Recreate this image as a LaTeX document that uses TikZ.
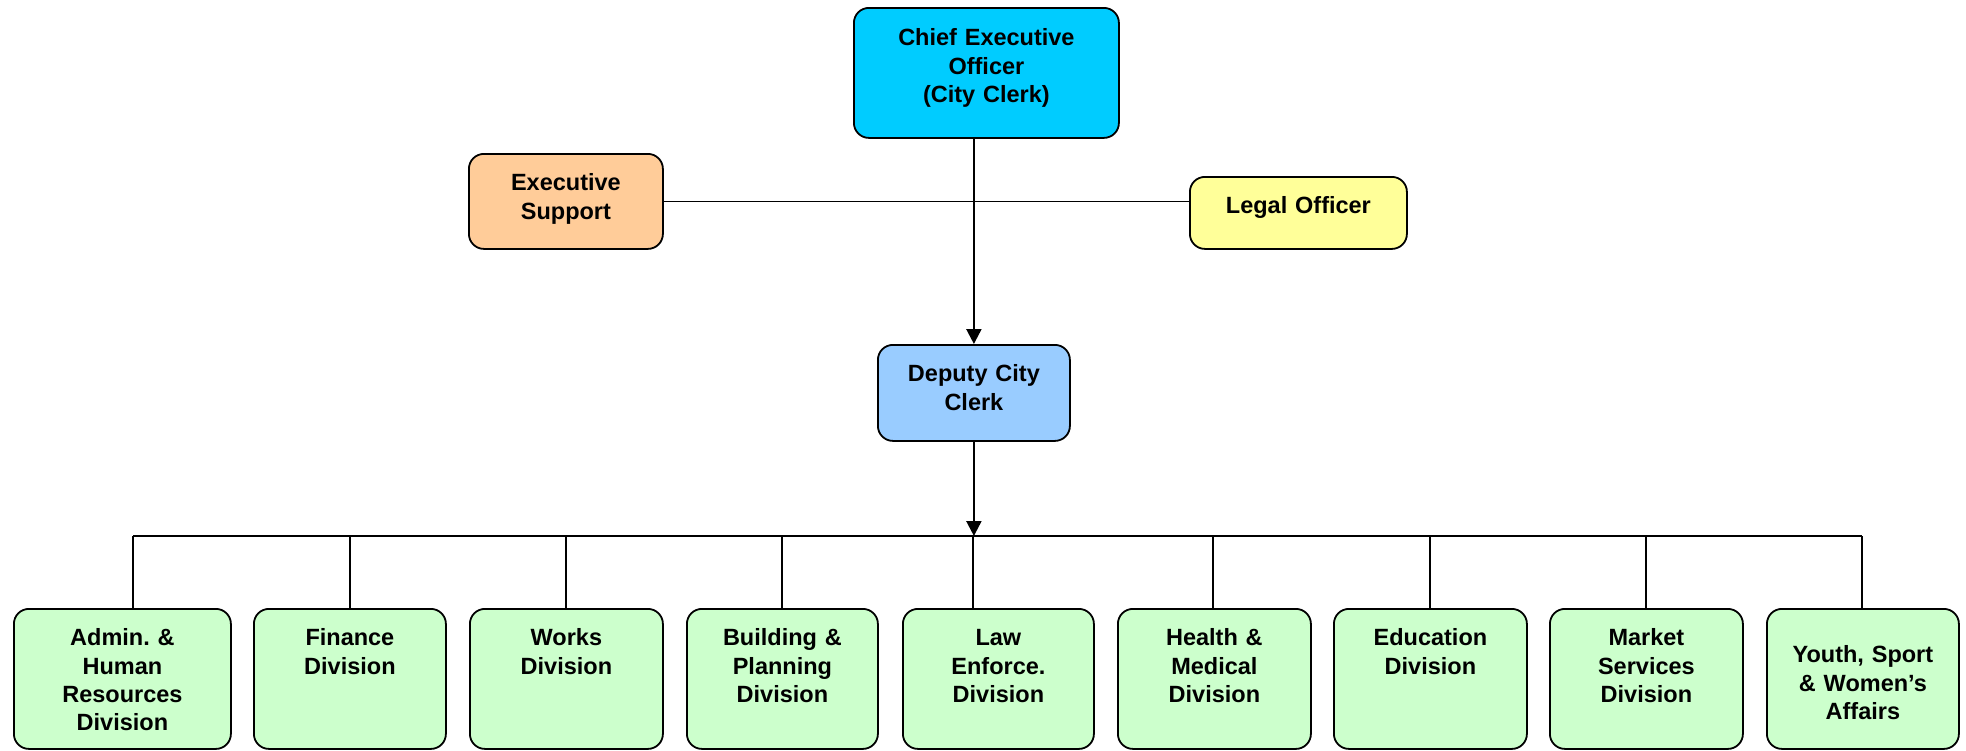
\documentclass[tikz,border=0pt]{standalone}
\usepackage{fontspec}
\setmainfont{Liberation Sans}
\usetikzlibrary{arrows.meta}
\frenchspacing

\definecolor{ceoblue}{RGB}{0,204,255}
\definecolor{deputyblue}{RGB}{153,204,255}
\definecolor{supportpeach}{RGB}{255,204,153}
\definecolor{legalyellow}{RGB}{255,255,153}
\definecolor{divgreen}{RGB}{204,255,204}

\tikzset{
    unit/.style={draw, line width=1.8pt, rounded corners=15pt, anchor=north west,
        align=center, inner sep=0pt, text height=37pt,
        font=\bfseries\fontsize{23.5}{28.3}\selectfont},
    division/.style={unit, fill=divgreen},
    link/.style={line width=1.6pt},
    down/.style={line width=2.2pt, -{Triangle[width=15pt,length=15pt]}},
}

\begin{document}
\begin{tikzpicture}[x=1pt, y=-1pt]

    % Frame
    \def\ytop{608}   % top of the divisions
    \def\ybus{536}   % bus line
    \useasboundingbox (0,0) rectangle (1966,750);

    % Top of the chart
    \node[unit, fill=ceoblue, text width=265pt, text height=38pt, text depth=92pt] (ceo) at (853,7)
        {Chief Executive\\Officer\\(City Clerk)};
    \node[unit, fill=supportpeach, text width=194pt, text depth=58pt] (support) at (468,153)
        {Executive\\Support};
    \node[unit, fill=legalyellow, text width=217pt, text depth=35pt] (legal) at (1189,176)
        {Legal Officer};
    \node[unit, fill=deputyblue, text width=192pt, text depth=59pt] (deputy) at (877,344)
        {Deputy City\\Clerk};

    % Divisions (left edge, width, drop line, first baseline)
    \foreach \i/\xl/\w/\dx/\th/\txt in {
        1/13/217/133/37/{Admin. \&\\Human\\Resources\\Division},
        2/253/192/350/37/{Finance\\Division},
        3/469/193/566/37/{Works\\Division},
        4/686/191/782/37/{Building \&\\Planning\\Division},
        5/902/191/973/37/{Law\\Enforce.\\Division},
        6/1117/193/1213/37/{Health \&\\Medical\\Division},
        7/1333/193/1430/37/{Education\\Division},
        8/1549/193/1646/37/{Market\\Services\\Division},
        9/1766/192/1862/54/{Youth, Sport\\\& Women’s\\Affairs}}{
        \pgfmathsetmacro{\td}{140-\th}
        \node[division, text width=\w pt, text height=\th pt, text depth=\td pt] (d\i) at (\xl,\ytop) {\txt};
        \coordinate (t\i) at (\dx,\ybus);
        \draw[link] (t\i) -- (t\i |- d\i.north);
    }

    % Connectors
    \draw[link] (support.east) -- (support.east -| legal.west);
    \draw[down] (deputy.north |- ceo.south) -- (deputy.north);
    \draw[down] (deputy.south) -- (deputy.south |- t5);
    \draw[link] (t1) -- (t9);

\end{tikzpicture}
\end{document}
